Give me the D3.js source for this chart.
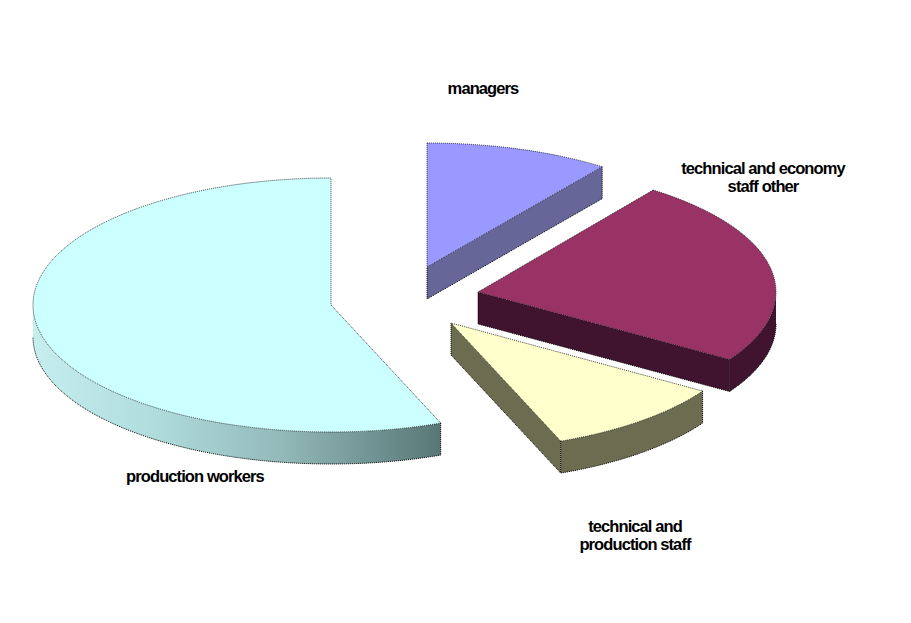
<!DOCTYPE html>
<html>
<head>
<meta charset="utf-8">
<script src="https://cdn.jsdelivr.net/npm/d3@7/dist/d3.min.js"></script>
<style>
html,body{margin:0;padding:0;background:#fff}
svg{display:block}
text{font-family:"Liberation Sans",Arial,sans-serif;font-size:16.5px;font-weight:700;letter-spacing:-0.9px;fill:#000;text-anchor:middle}
</style>
</head>
<body>
<svg id="c" width="911" height="623"></svg>
<script>
const categories = ["managers", "technical and economy staff other", "technical and production staff", "production workers"];
const shares = [10, 24, 10, 56];
const topColors = ["#9999ff", "#993366", "#ffffcc", "#ccffff"];
const sideColors = ["#666699", "#40142e", "#6c6c50", "url(#rim)"];
const radialColors = ["#666699", "#40142e", "#6c6c50", "#5f7f7f"];
const labelLines = [["managers"], ["technical and economy", "staff other"], ["technical and", "production staff"], ["production workers"]];

// layout of the exploded slices
const centers = [[427, 267], [478, 292], [451, 323], [331, 305]];
const radiiY = [124, 126, 127, 127];
const labelAnchors = [[483, 94], [763, 174], [635, 532], [195, 482]];
const R = 298, depth = 32, lineGap = 18;

const svg = d3.select("#c");
const grad = svg.append("defs").append("linearGradient")
  .attr("id", "rim").attr("gradientUnits", "userSpaceOnUse")
  .attr("x1", 33 - centers[3][0]).attr("x2", 441 - centers[3][0]).attr("y1", 0).attr("y2", 0);
[[0, "#c6eeee"], [0.3, "#b0dcdc"], [0.6, "#94baba"], [0.85, "#6f9090"], [1, "#587676"]]
  .forEach(([o, c]) => grad.append("stop").attr("offset", o).attr("stop-color", c));

const arcs = d3.pie().sort(null).value(d => d)(shares);
const arcGen = d3.arc().innerRadius(0).outerRadius(R);

arcs.forEach((a, i) => {
  const [cx, cy] = centers[i];
  const ry = radiiY[i];
  const g = svg.append("g").attr("transform", `translate(${cx},${cy})`);
  const px = t => R * Math.sin(t), py = t => -ry * Math.cos(t);

  // radial cut faces that look toward the viewer
  [[a.endAngle, Math.sin(a.endAngle) > 0.001], [a.startAngle, Math.sin(a.startAngle) < -0.001]]
    .filter(d => d[1]).forEach(([t]) => {
      g.append("path")
        .attr("d", d3.line()([[0, 0], [px(t), py(t)], [px(t), py(t) + depth], [0, depth]]))
        .attr("fill", radialColors[i]);
      g.append("path")
        .attr("d", d3.line()([[px(t), py(t) + depth], [0, depth], [0, 0]]))
        .attr("fill", "none").attr("stroke", "#000").attr("stroke-dasharray", "1 1");
    });

  // outer rim on the near half of the ellipse
  const lo = Math.max(a.startAngle, Math.PI / 2), hi = Math.min(a.endAngle, 3 * Math.PI / 2);
  if (hi > lo) {
    const ts = d3.range(lo, hi, 0.01).concat([hi]);
    g.append("path")
      .attr("d", d3.area().x(px).y0(py).y1(t => py(t) + depth)(ts))
      .attr("fill", sideColors[i]);
    g.append("path").attr("d", d3.line().x(px).y(t => py(t) + depth)(ts))
      .attr("fill", "none").attr("stroke", "#000").attr("stroke-dasharray", "1 1");
  }

  // vertical edge between a cut face and the rim, and the outermost one
  [a.startAngle, a.endAngle].filter(t => Math.sin(t) > 0.001)
    .forEach(t => {
      g.append("path").attr("d", d3.line()([[px(t), py(t)], [px(t), py(t) + depth]]))
        .attr("stroke", "#000").attr("stroke-dasharray", "1 1").attr("fill", "none");
    });

  // top face
  g.append("path")
    .attr("transform", `scale(1,${ry / R})`)
    .attr("d", arcGen(a))
    .attr("fill", topColors[i])
    .attr("stroke", "#000")
    .attr("stroke-opacity", .75)
    .attr("stroke-width", 1)
    .attr("stroke-dasharray", "1 1")
    .style("vector-effect", "non-scaling-stroke");
});

labelLines.forEach((lines, i) => {
  const t = svg.append("text").attr("x", labelAnchors[i][0]).attr("y", labelAnchors[i][1]);
  t.selectAll("tspan").data(lines).join("tspan")
    .attr("x", labelAnchors[i][0])
    .attr("dy", (d, j) => j ? lineGap : 0)
    .text(d => d);
});
</script>
</body>
</html>
